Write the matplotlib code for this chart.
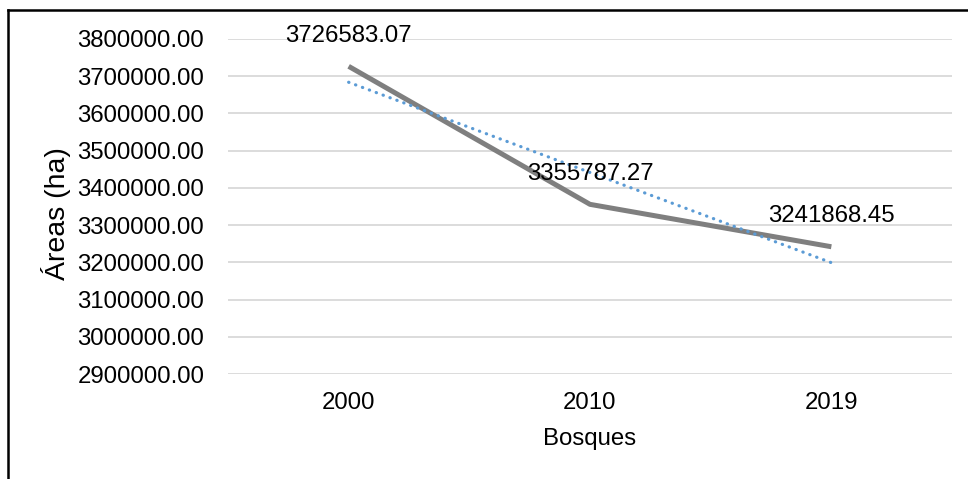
import numpy as np
import matplotlib
matplotlib.use('Agg')
import matplotlib.pyplot as plt
from matplotlib.lines import Line2D
from matplotlib.ticker import FormatStrFormatter

plt.rcParams['font.family'] = ['Liberation Sans', 'DejaVu Sans']

# datos
years = ['2000', '2010', '2019']
areas = [3726583.07, 3355787.27, 3241868.45]
y_ticks = [2900000, 3000000, 3100000, 3200000, 3300000, 3400000, 3500000, 3600000, 3700000, 3800000]

x = np.arange(len(years))
# linea de tendencia lineal (como en Excel)
coef = np.polyfit(x, areas, 1)
trend = np.polyval(coef, x)

fs = 17.3
fig = plt.figure(figsize=(9.68, 4.79), dpi=100)
ax = fig.add_axes([0.2355, 0.2192, 0.748, 0.6994])

for yt in y_ticks:
    ax.axhline(yt, color='#d9d9d9', lw=1.3, zorder=0)

ax.plot(x, areas, color='#7f7f7f', lw=3.6, solid_capstyle='butt', zorder=3)
ax.plot(x, trend, color='#5b9bd5', lw=2.3, linestyle=(0, (0.1, 2.2)),
        dash_capstyle='round', zorder=4)

for xi, v in zip(x, areas):
    ax.annotate('%.2f' % v, (xi, v), xytext=(0, 22), textcoords='offset points',
                ha='center', va='center', fontsize=fs, zorder=5)

ax.set_xlim(-0.5, 2.5)
ax.set_ylim(2900000, 3800000)
ax.set_yticks(y_ticks)
ax.yaxis.set_major_formatter(FormatStrFormatter('%.2f'))
ax.set_xticks(x)
ax.set_xticklabels(years)
ax.tick_params(axis='both', length=0, labelsize=fs)
ax.tick_params(axis='y', pad=17)
ax.tick_params(axis='x', pad=13)
for s in ax.spines.values():
    s.set_visible(False)

ax.set_xlabel('Bosques', fontsize=fs, labelpad=10)
fig.text(56 / 968, 1 - 214 / 479, 'Áreas (ha)', rotation=90, fontsize=20.5,
         ha='center', va='center')

# marco del grafico
ytop = 1 - 10 / 479
xleft = 8 / 968
fig.add_artist(Line2D([xleft, 1], [ytop, ytop], color='black', lw=1.8, transform=fig.transFigure))
fig.add_artist(Line2D([xleft, xleft], [0, ytop], color='black', lw=1.8, transform=fig.transFigure))

fig.savefig('out.png', dpi=100)
